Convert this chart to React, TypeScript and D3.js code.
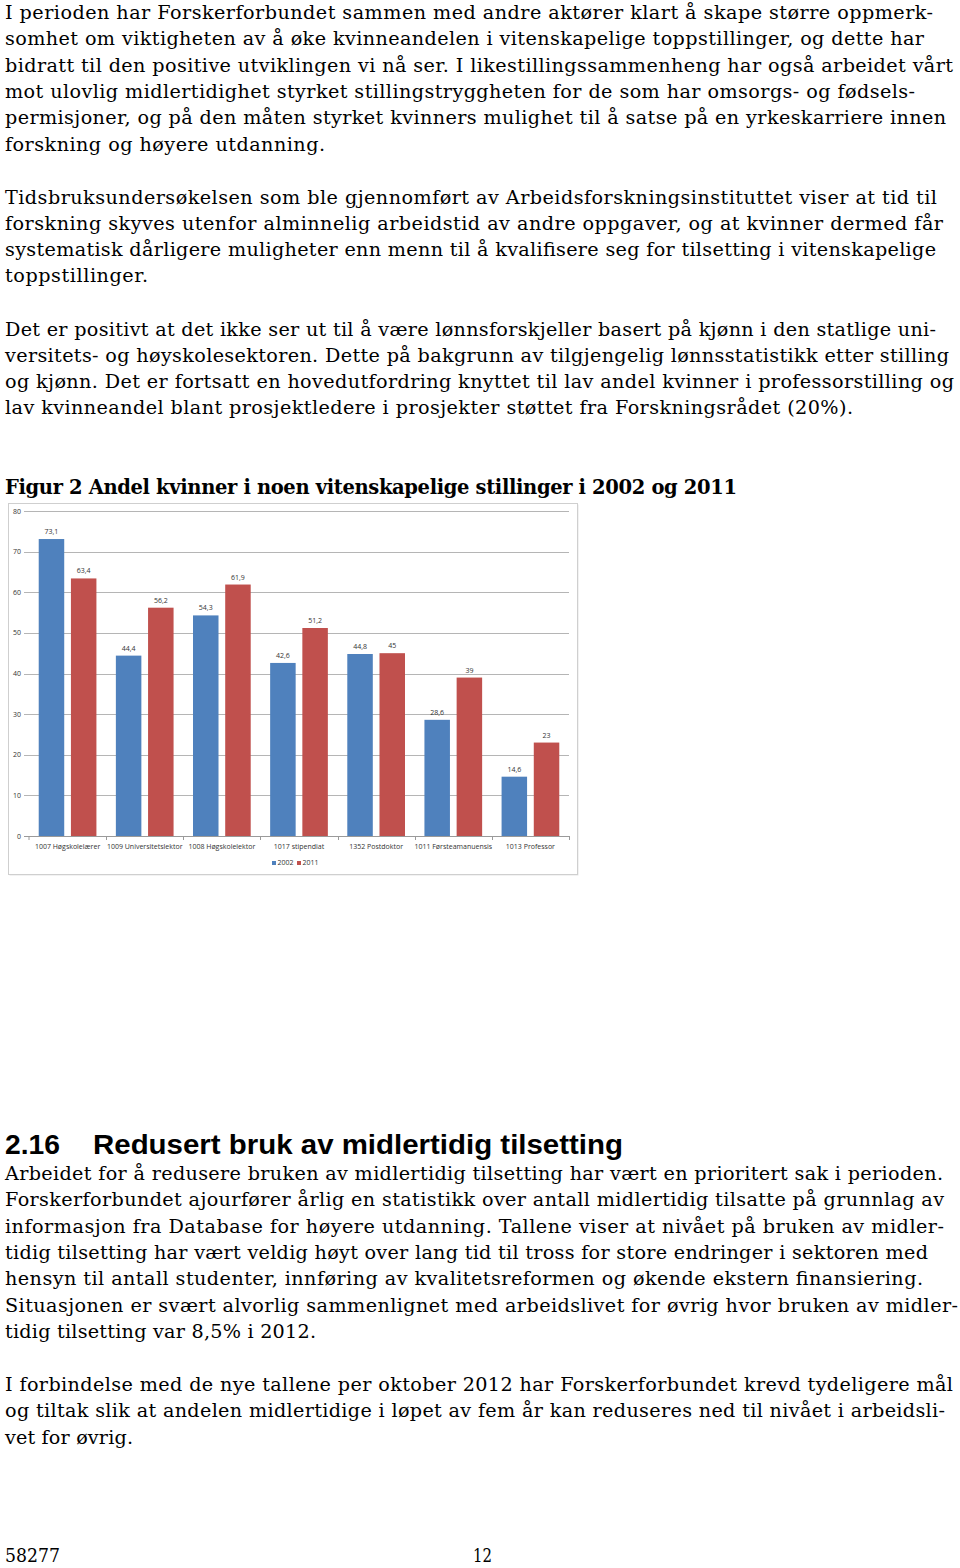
import React from "react";
import * as d3 from "d3";

// ---------- chart data ----------
const categories = [
  "1007 Høgskolelærer",
  "1009 Universitetslektor",
  "1008 Høgskolelektor",
  "1017 stipendiat",
  "1352 Postdoktor",
  "1011 Førsteamanuensis",
  "1013 Professor",
];
const seriesNames = ["2002", "2011"];
const values2002 = [73.1, 44.4, 54.3, 42.6, 44.8, 28.6, 14.6];
const values2011 = [63.4, 56.2, 61.9, 51.2, 45, 39, 23];
const yTicks = [0, 10, 20, 30, 40, 50, 60, 70, 80];

// ---------- page text ----------
const para1 = [
  "I perioden har Forskerforbundet sammen med andre aktører klart å skape større oppmerk-",
  "somhet om viktigheten av å øke kvinneandelen i vitenskapelige toppstillinger, og dette har",
  "bidratt til den positive utviklingen vi nå ser. I likestillingssammenheng har også arbeidet vårt",
  "mot ulovlig midlertidighet styrket stillingstryggheten for de som har omsorgs- og fødsels-",
  "permisjoner, og på den måten styrket kvinners mulighet til å satse på en yrkeskarriere innen",
  "forskning og høyere utdanning.",
];
const para2 = [
  "Tidsbruksundersøkelsen som ble gjennomført av Arbeidsforskningsinstituttet viser at tid til",
  "forskning skyves utenfor alminnelig arbeidstid av andre oppgaver, og at kvinner dermed får",
  "systematisk dårligere muligheter enn menn til å kvalifisere seg for tilsetting i vitenskapelige",
  "toppstillinger.",
];
const para3 = [
  "Det er positivt at det ikke ser ut til å være lønnsforskjeller basert på kjønn i den statlige uni-",
  "versitets- og høyskolesektoren. Dette på bakgrunn av tilgjengelig lønnsstatistikk etter stilling",
  "og kjønn. Det er fortsatt en hovedutfordring knyttet til lav andel kvinner i professorstilling og",
  "lav kvinneandel blant prosjektledere i prosjekter støttet fra Forskningsrådet (20%).",
];
const figTitle = "Figur 2 Andel kvinner i noen vitenskapelige stillinger i 2002 og 2011";
const headingNum = "2.16";
const headingText = "Redusert bruk av midlertidig tilsetting";
const para4 = [
  "Arbeidet for å redusere bruken av midlertidig tilsetting har vært en prioritert sak i perioden.",
  "Forskerforbundet ajourfører årlig en statistikk over antall midlertidig tilsatte på grunnlag av",
  "informasjon fra Database for høyere utdanning. Tallene viser at nivået på bruken av midler-",
  "tidig tilsetting har vært veldig høyt over lang tid til tross for store endringer i sektoren med",
  "hensyn til antall studenter, innføring av kvalitetsreformen og økende ekstern finansiering.",
  "Situasjonen er svært alvorlig sammenlignet med arbeidslivet for øvrig hvor bruken av midler-",
  "tidig tilsetting var 8,5% i 2012.",
];
const para5 = [
  "I forbindelse med de nye tallene per oktober 2012 har Forskerforbundet krevd tydeligere mål",
  "og tiltak slik at andelen midlertidige i løpet av fem år kan reduseres ned til nivået i arbeidsli-",
  "vet for øvrig.",
];
const footerLeft = "58277";
const footerPage = "12";

// ---------- layout (line end x positions, first baselines) ----------
const para1Ends = [933, 924, 953, 915, 946, 325];
const para2Ends = [937, 943, 936, 148];
const para3Ends = [936, 949, 954, 853];
const para4Ends = [943, 944, 944, 928, 923, 958, 316];
const para5Ends = [953, 945, 133];

const LEFT = 5;
const LH = 26.3;
const BODY_FONT = "'DejaVu Serif', Georgia, serif";
const BODY_SIZE = 19.2;

function Paragraph({ lines, ends, y0 }: { lines: string[]; ends: number[]; y0: number }) {
  return (
    <g>
      {lines.map((t, i) => (
        <text
          key={i}
          x={LEFT}
          y={y0 + i * LH}
          textLength={ends[i] - LEFT}
          lengthAdjust="spacing"
          fontFamily={BODY_FONT}
          fontSize={BODY_SIZE}
          fill="#000"
        >
          {t}
        </text>
      ))}
    </g>
  );
}

function Chart() {
  const frame = { x: 8.5, y: 503.5, w: 569, h: 371 };
  const plot = { left: 29, right: 569, top: 511, bottom: 836 };
  const y = d3.scaleLinear().domain([0, 80]).range([plot.bottom, plot.top]);
  const x0 = d3
    .scaleBand<string>()
    .domain(categories)
    .range([plot.left, plot.right])
    .paddingInner(0.252)
    .paddingOuter(0.126);
  const x1 = d3
    .scaleBand<string>()
    .domain(seriesNames)
    .range([0, x0.bandwidth()])
    .paddingInner(0.208);
  const colors = d3.scaleOrdinal<string, string>().domain(seriesNames).range(["#4F81BD", "#C0504D"]);
  const seriesValues = [values2002, values2011];
  const fmt = (v: number) => String(v).replace(".", ",");
  const small = "'Open Sans', 'Liberation Sans', sans-serif";
  const step = x0.step();

  return (
    <g>
      <rect x={frame.x + 1} y={frame.y + 1} width={frame.w} height={frame.h} fill="#e6e6e6" />
      <rect x={frame.x} y={frame.y} width={frame.w} height={frame.h} fill="#fff" stroke="#cfcfcf" strokeWidth={1} />
      {yTicks.map((t) => (
        <g key={t}>
          <line x1={plot.left - 5} x2={plot.right} y1={Math.round(y(t)) + 0.5} y2={Math.round(y(t)) + 0.5} stroke={t === 0 ? "#9a9a9a" : "#b5b5b5"} strokeWidth={1} />
          <text x={21} y={y(t) + 2.5} textAnchor="end" fontFamily={small} fontSize={7} fill="#333">
            {t}
          </text>
        </g>
      ))}
      {categories.map((c, i) => (
        <g key={c}>
          <line x1={Math.round(plot.left + step * (i + 1)) + 0.5} x2={Math.round(plot.left + step * (i + 1)) + 0.5} y1={plot.bottom} y2={plot.bottom + 4} stroke="#9a9a9a" />
          {seriesNames.map((s, k) => {
            const v = seriesValues[k][i];
            const bx = (x0(c) as number) + (x1(s) as number);
            return (
              <g key={s}>
                <rect x={bx} y={y(v)} width={x1.bandwidth()} height={plot.bottom - y(v)} fill={colors(s)} />
                <text x={bx + x1.bandwidth() / 2} y={y(v) - 5} textAnchor="middle" fontFamily={small} fontSize={7} fill="#333">
                  {fmt(v)}
                </text>
              </g>
            );
          })}
          <text x={(x0(c) as number) + x0.bandwidth() / 2} y={849} textAnchor="middle" fontFamily={small} fontSize={7} fill="#333">
            {c}
          </text>
        </g>
      ))}
      <line x1={plot.left} x2={plot.left} y1={plot.bottom} y2={plot.bottom + 4} stroke="#9a9a9a" />
      {seriesNames.map((s, k) => (
        <g key={s} transform={`translate(${272 + k * 25},0)`}>
          <rect x={0} y={861} width={4} height={4} fill={colors(s)} />
          <text x={5.5} y={865} fontFamily={small} fontSize={7} fill="#333">
            {s}
          </text>
        </g>
      ))}
    </g>
  );
}

export default function App() {
  return (
    <svg
      width={960}
      height={1568}
      viewBox="0 0 960 1568"
      style={{ position: "absolute", left: 0, top: 0, background: "#fff" }}
    >
      <rect width={960} height={1568} fill="#fff" />
      <Paragraph lines={para1} ends={para1Ends} y0={19} />
      <Paragraph lines={para2} ends={para2Ends} y0={203.5} />
      <Paragraph lines={para3} ends={para3Ends} y0={335.5} />
      <text x={LEFT} y={494} textLength={737 - LEFT} lengthAdjust="spacing" fontFamily={BODY_FONT} fontWeight="bold" fontSize={19.5} fill="#000">
        {figTitle}
      </text>
      <Chart />
      <text x={LEFT} y={1154} fontFamily="'Liberation Sans', Arial, sans-serif" fontWeight="bold" fontSize={28.5} textLength={55} lengthAdjust="spacingAndGlyphs" fill="#000">
        {headingNum}
      </text>
      <text x={93} y={1154} fontFamily="'Liberation Sans', Arial, sans-serif" fontWeight="bold" fontSize={28.5} textLength={530} lengthAdjust="spacingAndGlyphs" fill="#000">
        {headingText}
      </text>
      <Paragraph lines={para4} ends={para4Ends} y0={1180} />
      <Paragraph lines={para5} ends={para5Ends} y0={1391} />
      <text x={LEFT} y={1562} textLength={55} lengthAdjust="spacingAndGlyphs" fontFamily={BODY_FONT} fontSize={18} fill="#000">
        {footerLeft}
      </text>
      <text x={473} y={1562} textLength={19} lengthAdjust="spacingAndGlyphs" fontFamily={BODY_FONT} fontSize={18} fill="#000">
        {footerPage}
      </text>
    </svg>
  );
}
